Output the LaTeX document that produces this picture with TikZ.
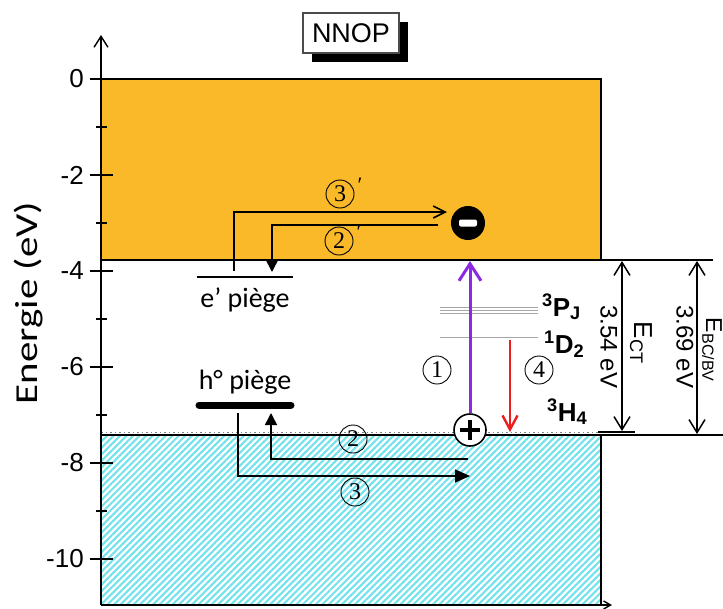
\documentclass[tikz,border=0pt]{standalone}
\usepackage{fontspec}
\usepackage{graphicx}
\setmainfont{Liberation Sans}
\newfontfamily\calfont{Carlito}
\newfontfamily\serfont{Liberation Serif}
\usetikzlibrary{arrows.meta,patterns.meta}
\definecolor{cbor}{HTML}{F9B928}
\definecolor{hatchc}{HTML}{72E2EC}
\definecolor{violetc}{HTML}{8A2BE2}
\definecolor{redc}{HTML}{EE1C1C}
\newcommand{\fsz}[1]{\fontsize{#1}{#1}\selectfont}
\begin{document}
\begin{tikzpicture}[x=1pt,y=-1pt,
  num/.style={circle,draw,line width=0.9pt,minimum size=28pt,inner sep=0pt,font=\serfont\fsz{24}},
  primelab/.style={inner sep=0pt,font=\serfont\fsz{22}},
  ticklab/.style={anchor=east,font=\fsz{26},inner sep=0pt},
  blk/.style={line width=1.6pt},
  level/.style={gray!70,line width=0.9pt},
  termlab/.style={anchor=base west,inner sep=0pt,font=\bfseries\fsz{26}},
  rotlab/.style={rotate=-90,inner sep=0pt},
  traplab/.style={font=\calfont\fsz{28},inner sep=0pt}
]
\useasboundingbox (0,0) rectangle (723,608);

% conduction band (orange)
\fill[cbor] (101,79) rectangle (601,260);
\draw[line width=1.2pt] (101,79) -- (601,79) -- (601,260);
% valence band (hatched)
\fill[white] (101,435) rectangle (601,605);
\pattern[pattern={Lines[angle=45,distance=4.6pt,line width=2.1pt]},pattern color=hatchc] (101,435) rectangle (601,605);
\draw[line width=1.2pt] (601,435) -- (601,605);

% band edge lines
\coordinate (cbL) at (101,260);
\coordinate (cbR) at (713,260);
\coordinate (vbL) at (101,435);
\coordinate (vbR) at (723,435);
\draw[line width=1.4pt] (cbL) -- (cbR);
\draw[line width=1.4pt] (vbL) -- (vbR);
\draw[gray,line width=1pt,dash pattern=on 1.5pt off 3pt] (101,432) -- (600,432);

% axes
\coordinate (o) at (101,605);
\coordinate (ytop) at (101,35);
\coordinate (xend) at (612,605);
\draw[line width=1.4pt,-{Straight Barb[length=11pt,width=14pt]}] (o) -- (ytop);
\draw[line width=1.4pt,-{Straight Barb[length=7pt,width=8pt]}] (o) -- (xend);

\foreach \e/\lab in {0/0,-2/-2,-4/-4,-6/-6,-8/-8,-10/-10}{
  \pgfmathsetmacro{\yy}{79-48*\e}
  \draw[line width=1.2pt] (90,\yy) -- (113,\yy);
  \node[ticklab] at (84,\yy) {\lab};
}
\foreach \e in {-1,-3,-5,-7,-9}{
  \pgfmathsetmacro{\yy}{79-48*\e}
  \draw[line width=1.2pt] (96,\yy) -- (107,\yy);
}
\node[rotate=90,font=\calfont\fsz{32},inner sep=0pt] (ylab) at (29,303) {\scalebox{1.28}[1]{Energie (eV)}};

% NNOP label
\fill[black] (312,22) rectangle (408,62);
\node[draw=gray!60!black,fill=white,line width=1.3pt,minimum width=96pt,minimum height=40pt,inner sep=0pt,font=\fsz{27}] (nnop) at (351,33) {NNOP};

% Pr levels
\draw[level] (440,307) -- (538,307);
\draw[level] (440,310) -- (538,310);
\draw[level] (440,313) -- (538,313);
\draw[level] (440,337) -- (538,337);
\node[termlab] (pj) at (542,316) {\textsuperscript{3}P\textsubscript{J}};
\node[termlab] (dd) at (544,353) {\textsuperscript{1}D\textsubscript{2}};
\node[termlab] (hh) at (547,421) {\textsuperscript{3}H\textsubscript{4}};

% traps
\draw[line width=1.4pt] (197,277) -- (293,277);
\draw[line width=7pt,line cap=round] (199,405) -- (291,405);
\node[traplab] (etrap) at (245,300) {e’ piège};
\node[traplab] (htrap) at (245,382) {h° piège};

% charges
\node[circle,fill=black,minimum size=34pt,inner sep=0pt] (minus) at (468,223) {};
\node[fill=white,rounded corners=2pt,minimum width=18pt,minimum height=7pt,inner sep=0pt] (minusbar) at (minus) {};
\node[circle,draw,fill=white,line width=1.6pt,minimum size=32pt,inner sep=0pt] (plus) at (470,430) {};
\draw[line width=3.4pt] ([xshift=-10pt]plus.center) -- ([xshift=10pt]plus.center);
\draw[line width=3.4pt] ([yshift=-10pt]plus.center) -- ([yshift=10pt]plus.center);

% transitions
\coordinate (vtop) at (470,261);
\draw[violetc,line width=3pt,-{Straight Barb[length=17pt,width=22pt]}] (plus.north) -- (vtop);
\coordinate (rtop) at (510,340);
\coordinate (rbot) at (510,432);
\draw[redc,line width=2.4pt,-{Straight Barb[length=14pt,width=15pt]}] (rtop) -- (rbot);

% energy gaps
\coordinate (ct1) at (622,261);
\coordinate (ct2) at (622,431);
\draw[line width=1.5pt,{Straight Barb[length=13pt,width=16pt]}-{Straight Barb[length=13pt,width=16pt]}] (ct1) -- (ct2);
\coordinate (bc1) at (697,261);
\coordinate (bc2) at (697,434);
\draw[line width=1.5pt,{Straight Barb[length=13pt,width=16pt]}-{Straight Barb[length=13pt,width=16pt]}] (bc1) -- (bc2);
\draw[line width=2.5pt] (598,432) -- (635,432);
\node[rotlab,font=\fsz{24}] (ect) at (609,347) {3.54 eV};
\node[rotlab,font=\fsz{26}] (ectl) at (641,343) {E\textsubscript{CT}};
\node[rotlab,font=\fsz{24}] (ebc) at (685,347) {3.69 eV};
\node[rotlab,font=\fsz{23}] (ebcl) at (712,350) {E\textsubscript{BC/BV}};

% charge transfer arrows
\coordinate (a3s) at (234,271);
\coordinate (a3c) at (234,212);
\coordinate (a3e) at (447,212);
\draw[blk,-{Straight Barb[length=12pt,width=12pt]}] (a3s) -- (a3c) -- (a3e);
\coordinate (a2s) at (438,225);
\coordinate (a2c) at (272,225);
\coordinate (a2e) at (272,272);
\draw[blk,-{Triangle[length=12pt,width=12pt]}] (a2s) -- (a2c) -- (a2e);
\coordinate (b2s) at (468,459);
\coordinate (b2c) at (271,459);
\coordinate (b2e) at (271,413);
\draw[blk,-{Triangle[length=12pt,width=12pt]}] (b2s) -- (b2c) -- (b2e);
\coordinate (b3s) at (238,413);
\coordinate (b3c) at (238,476);
\coordinate (b3e) at (470,476);
\draw[blk,-{Triangle[length=15pt,width=13pt]}] (b3s) -- (b3c) -- (b3e);

% circled numbers
\node[num] (n3p) at (340,194) {3};
\node[primelab] at (360,185) {′};
\node[num] (n2p) at (339,241) {2};
\node[primelab] at (359,232) {′};
\node[num] (n1) at (437,370) {1};
\node[num] (n4) at (539,370) {4};
\node[num] (n2) at (353,439) {2};
\node[num] (n3) at (355,492) {3};
\end{tikzpicture}
\end{document}
